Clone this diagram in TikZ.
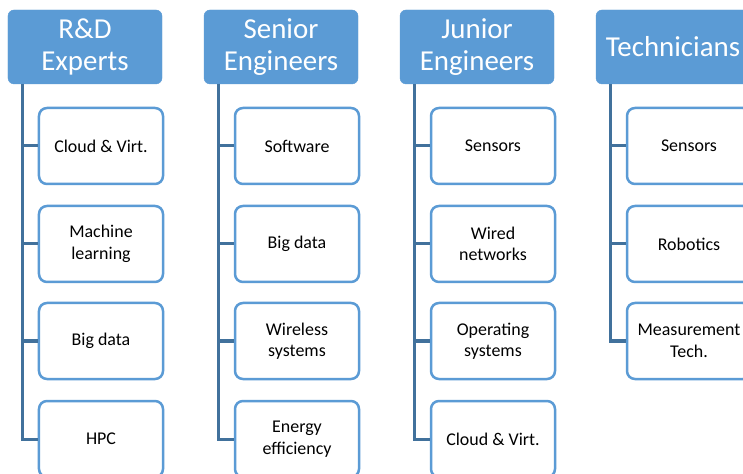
\documentclass[tikz,border=0pt]{standalone}
\usepackage{fontspec}
\setmainfont{Carlito}
\definecolor{hdr}{HTML}{5B9BD5}
\definecolor{lnk}{HTML}{41719C}
\tikzset{
  header/.style={draw=hdr, fill=hdr, rounded corners=6bp, minimum width=154bp, minimum height=74bp,
    text=white, align=center, font=\fontsize{29}{33}\selectfont, inner sep=0pt},
  item/.style={draw=hdr, line width=2.5bp, fill=white, rounded corners=8bp, minimum width=124bp, minimum height=76bp,
    align=center, font=\fontsize{18}{21.5}\selectfont, inner sep=0pt},
  conn/.style={draw=lnk, line width=3bp}
}
\begin{document}
\begin{tikzpicture}[x=1bp,y=-1bp]
\useasboundingbox (0,0) rectangle (743,474);
\clip (0,0) rectangle (743,474);
\fill[white] (0,0) rectangle (743,474);
% column 1
\node[header] (h1) at (85,47) {R\&D\\Experts};
\coordinate (l1) at (22.5,84);
\node[item] (c11) at (101,146) {Cloud \& Virt.};
\node[item] (c12) at (101,244) {Machine\\learning};
\node[item] (c13) at (101,341) {Big data};
\node[item] (c14) at (101,439) {HPC};
% column 2
\node[header] (h2) at (281,47) {Senior\\Engineers};
\coordinate (l2) at (218.5,84);
\node[item] (c21) at (297,146) {Software};
\node[item] (c22) at (297,244) {Big data};
\node[item] (c23) at (297,341) {Wireless\\systems};
\node[item] (c24) at (297,439) {Energy\\efficiency};
% column 3
\node[header] (h3) at (477,47) {Junior\\Engineers};
\coordinate (l3) at (414.5,84);
\node[item] (c31) at (493,146) {Sensors};
\node[item] (c32) at (493,244) {Wired\\networks};
\node[item] (c33) at (493,341) {Operating\\systems};
\node[item] (c34) at (493,439) {Cloud \& Virt.};
% column 4
\node[header] (h4) at (673,47) {Technicians};
\coordinate (l4) at (610.5,84);
\node[item] (c41) at (689,146) {Sensors};
\node[item] (c42) at (689,244) {Robotics};
\node[item] (c43) at (689,341) {Measurement\\Tech.};
% connectors
\draw[conn] (l1) |- (c14.west);
\draw[conn] (c11.west) -- (c11.west -| l1);
\draw[conn] (c12.west) -- (c12.west -| l1);
\draw[conn] (c13.west) -- (c13.west -| l1);
\draw[conn] (l2) |- (c24.west);
\draw[conn] (c21.west) -- (c21.west -| l2);
\draw[conn] (c22.west) -- (c22.west -| l2);
\draw[conn] (c23.west) -- (c23.west -| l2);
\draw[conn] (l3) |- (c34.west);
\draw[conn] (c31.west) -- (c31.west -| l3);
\draw[conn] (c32.west) -- (c32.west -| l3);
\draw[conn] (c33.west) -- (c33.west -| l3);
\draw[conn] (l4) |- (c43.west);
\draw[conn] (c41.west) -- (c41.west -| l4);
\draw[conn] (c42.west) -- (c42.west -| l4);
\end{tikzpicture}
\end{document}
